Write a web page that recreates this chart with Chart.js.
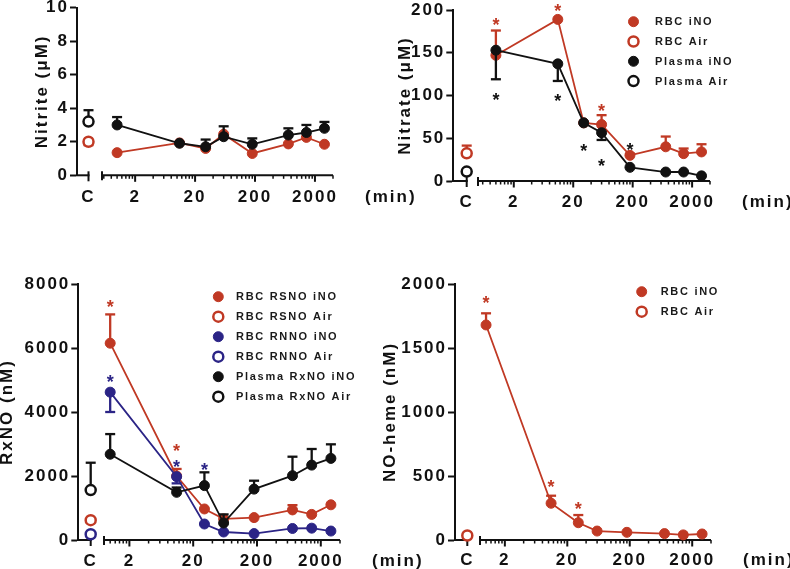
<!DOCTYPE html>
<html>
<head>
<meta charset="utf-8">
<script src="https://cdn.jsdelivr.net/npm/chart.js@4.4.1/dist/chart.umd.min.js"></script>
<style>
html, body { margin: 0; padding: 0; background: #ffffff; }
#wrap { position: relative; width: 790px; height: 569px; overflow: hidden; background: #ffffff; }
#wrap canvas { position: absolute; left: 0; top: 0; }
</style>
</head>
<body>
<div id="wrap">
  <canvas id="cNitrite" width="790" height="569"></canvas>
  <canvas id="cNitrate" width="790" height="569"></canvas>
  <canvas id="cRxNO" width="790" height="569"></canvas>
  <canvas id="cHeme" width="790" height="569"></canvas>
</div>
<script>
// ---------------- DATA ----------------
const TIMES = [1, 11, 30, 60, 180, 720, 1440, 2880];   // min
const CONTROL_LABEL = 'C';
const X_MAJOR_TICKS = [2, 20, 200, 2000];
const X_TICK_LABELS = ['2', '20', '200', '2000'];
const X_UNIT = '(min)';

// Panel A: Nitrite (µM)
const nitriteYTicks = [0, 2, 4, 6, 8, 10];
const nitriteRbcIno = [1.35, 1.93, 1.6, 2.45, 1.3, 1.87, 2.26, 1.85];
const nitriteRbcAir = [2.0];
const nitriteRbcAirErrDown = [0.2];
const nitritePlasmaIno = [3.0, 1.91, 1.7, 2.3, 1.85, 2.4, 2.55, 2.8];
const nitritePlasmaInoErrUp = [0.47, 0, 0.43, 0.62, 0.35, 0.4, 0.45, 0.38];
const nitritePlasmaAir = [3.2];
const nitritePlasmaAirErrUp = [0.68];

// Panel B: Nitrate (µM)
const nitrateYTicks = [0, 50, 100, 150, 200];
const nitrateRbcIno = [147, 189, 68, 66, 30, 40, 32, 34];
const nitrateRbcInoErrUp = [29, 0, 0, 11, 2, 12, 6, 9];
const nitrateRbcInoStars = [187, 204, null, 87, null, null, null, null];
const nitrateRbcAir = [32.4];
const nitrateRbcAirErrUp = [9];
const nitratePlasmaIno = [153, 137, 68, 56.5, 16, 10.5, 10.5, 6];
const nitratePlasmaInoErrDown = [34, 20, 0, 8.5, 0, 0, 0, 0];
const nitratePlasmaInoStars = [100, 99, 40, 23, 41, null, null, null];
const nitratePlasmaAir = [11];

// Panel C: RxNO (nM)
const rxnoYTicks = [0, 2000, 4000, 6000, 8000];
const rsnoIno = [6150, 2000, 970, 660, 700, 940, 800, 1100];
const rsnoInoErrUp = [900, 220, 0, 0, 0, 150, 0, 0];
const rsnoInoStars = [7400, 2900, null, null, null, null, null, null];
const rsnoAir = [620];
const rnnoIno = [4620, 1980, 500, 250, 200, 360, 370, 280];
const rnnoInoErrDown = [620, 210, 0, 0, 0, 0, 0, 0];
const rnnoInoStars = [5080, 2430, 2310, null, null, null, null, null];
const rnnoAir = [180];
const plasmaRxnoIno = [2680, 1490, 1700, 530, 1590, 2010, 2340, 2550];
const plasmaRxnoInoErrUp = [630, 150, 415, 270, 263, 593, 504, 440];
const plasmaRxnoAir = [1560];
const plasmaRxnoAirErrUp = [855];

// Panel D: NO-heme (nM)
const hemeYTicks = [0, 500, 1000, 1500, 2000];
const hemeRbcIno = [1680, 287, 135, 70, 60, 50, 40, 47];
const hemeRbcInoErrUp = [91, 59, 60, 0, 0, 0, 0, 0];
const hemeRbcInoStars = [1888, 451, 279, null, null, null, null, null];
const hemeRbcAir = [35];

// ---------------- STYLE ----------------
const RED = 'rgb(192,57,36)';
const BLUE = 'rgb(43,36,134)';
const BLACK = '#111111';
const FONT_FAMILY = '"Liberation Sans", Arial, Helvetica, sans-serif';
const TICK_SIZE = 17;
const SPACING = '2px';

Chart.defaults.font.family = FONT_FAMILY;
Chart.defaults.font.size = TICK_SIZE;
Chart.defaults.font.weight = 'bold';
Chart.defaults.color = BLACK;

function logTickValues(min, max) {
  const set = new Set();
  [0.2, 2, 20, 200, 2000].forEach(b => {
    for (let k = 1; k <= 10; k++) {
      const v = Number((b * k).toPrecision(6));
      if (v >= min - 1e-9 && v <= max + 1e-9) set.add(v);
    }
  });
  return Array.from(set).sort((a, b) => a - b);
}

function series(label, color, filled, values, axis, extra) {
  const xs = axis === 'xt' ? TIMES : [0];
  return Object.assign({
    label: label,
    data: values.map((v, i) => ({ x: xs[i], y: v })),
    xAxisID: axis,
    yAxisID: 'y',
    borderColor: color,
    backgroundColor: color,
    pointBackgroundColor: filled ? color : '#ffffff',
    pointBorderColor: color,
    pointBorderWidth: filled ? 1 : 2.5,
    pointRadius: 5,
    pointHoverRadius: 5,
    borderWidth: 1.8,
    showLine: axis === 'xt',
    fill: false,
    tension: 0,
    clip: false,
    errColor: color
  }, extra || {});
}

// ---------------- PLUGINS ----------------
const spacingPlugin = {
  id: 'gpSpacing',
  beforeUpdate(chart) { chart.ctx.letterSpacing = SPACING; },
  beforeLayout(chart) { chart.ctx.letterSpacing = SPACING; },
  beforeDraw(chart) { chart.ctx.letterSpacing = SPACING; }
};

const axisPlugin = {
  id: 'gpAxes',
  beforeDatasetsDraw(chart) {
    const ctx = chart.ctx;
    const xc = chart.scales.xc, xt = chart.scales.xt;
    const yLine = chart.chartArea.bottom;
    ctx.save();
    ctx.strokeStyle = BLACK;
    ctx.lineCap = 'butt';
    ctx.lineWidth = 2;
    const cx = xc.getPixelForValue(0);
    ctx.beginPath(); ctx.moveTo(xc.left - 1, yLine); ctx.lineTo(cx + 1, yLine); ctx.stroke();
    ctx.beginPath(); ctx.moveTo(cx, yLine - 4); ctx.lineTo(cx, yLine + 6); ctx.stroke();
    const x0 = xt.getPixelForValue(xt.min), x1 = xt.getPixelForValue(xt.max);
    ctx.beginPath(); ctx.moveTo(x0, yLine); ctx.lineTo(x1, yLine); ctx.stroke();
    ctx.beginPath(); ctx.moveTo(x0, yLine - 4); ctx.lineTo(x0, yLine + 5); ctx.stroke();
    xt.ticks.forEach(t => {
      const px = xt.getPixelForValue(t.value);
      const major = X_MAJOR_TICKS.includes(t.value);
      ctx.lineWidth = major ? 2 : 1.5;
      ctx.beginPath(); ctx.moveTo(px, yLine); ctx.lineTo(px, yLine + (major ? 6.5 : 3.5)); ctx.stroke();
    });
    ctx.restore();
  },
  afterDraw(chart) {
    const ctx = chart.ctx;
    const xt = chart.scales.xt;
    const y = chart.chartArea.bottom + xt.options.ticks.padding + TICK_SIZE * 1.2 / 2;
    ctx.save();
    ctx.letterSpacing = SPACING;
    ctx.font = 'bold ' + TICK_SIZE + 'px ' + FONT_FAMILY;
    ctx.fillStyle = BLACK;
    ctx.textAlign = 'left';
    ctx.textBaseline = 'middle';
    ctx.fillText(X_UNIT, xt.right + 32, y);
    ctx.restore();
  }
};

const errorBarPlugin = {
  id: 'gpErrors',
  beforeDatasetDraw(chart, args) {
    const ds = chart.data.datasets[args.index];
    const meta = args.meta;
    const ys = meta.yScale;
    const ctx = chart.ctx;
    ctx.save();
    ctx.strokeStyle = ds.errColor;
    ctx.lineWidth = 2.3;
    ctx.lineCap = 'butt';
    meta.data.forEach((pt, i) => {
      const v = ds.data[i].y;
      [[ds.errUp, 1], [ds.errDown, -1]].forEach(([arr, dir]) => {
        if (!arr || !arr[i]) return;
        const yEnd = ys.getPixelForValue(v + dir * arr[i]);
        ctx.beginPath(); ctx.moveTo(pt.x, pt.y); ctx.lineTo(pt.x, yEnd); ctx.stroke();
        ctx.beginPath(); ctx.moveTo(pt.x - 5, yEnd); ctx.lineTo(pt.x + 5, yEnd); ctx.stroke();
      });
    });
    ctx.restore();
  }
};

const starPlugin = {
  id: 'gpStars',
  afterDatasetsDraw(chart) {
    const ctx = chart.ctx;
    const size = 18;
    ctx.save();
    ctx.font = 'bold ' + size + 'px ' + FONT_FAMILY;
    ctx.textAlign = 'center';
    ctx.textBaseline = 'alphabetic';
    ctx.letterSpacing = '0px';
    chart.data.datasets.forEach((ds, di) => {
      if (!ds.stars) return;
      const meta = chart.getDatasetMeta(di);
      ctx.fillStyle = ds.starColor || ds.errColor;
      ds.stars.forEach((s, i) => {
        if (s === null || s === undefined) return;
        const x = meta.data[i].x;
        const y = meta.yScale.getPixelForValue(s);
        ctx.fillText('*', x, y + size * 0.57);
      });
    });
    ctx.restore();
  }
};

const legendPlugin = {
  id: 'gpLegend',
  afterDraw(chart, args, opts) {
    if (!opts || !opts.show) return;
    const ctx = chart.ctx;
    ctx.save();
    ctx.letterSpacing = opts.spacing + 'px';
    ctx.font = 'bold 11px ' + FONT_FAMILY;
    ctx.textBaseline = 'middle';
    ctx.textAlign = 'left';
    chart.data.datasets.forEach((ds, i) => {
      const y = opts.y + i * opts.rowGap;
      ctx.beginPath();
      ctx.arc(opts.x, y, 5, 0, Math.PI * 2);
      ctx.fillStyle = ds.pointBackgroundColor;
      ctx.fill();
      ctx.lineWidth = ds.pointBorderWidth;
      ctx.strokeStyle = ds.pointBorderColor;
      ctx.stroke();
      ctx.fillStyle = '#1a1a1a';
      ctx.fillText(ds.label, opts.x + opts.textGap, y + 0.5);
    });
    ctx.restore();
  }
};

// ---------------- PANEL FACTORY ----------------
function makePanel(id, g, yTicks, yTitle, datasets, legendOpts) {
  const yMax = yTicks[yTicks.length - 1];
  const xcW = g.logStart - g.yAxisX;
  const cOff = g.cPix - g.yAxisX;
  const xtW = g.right - g.logStart;
  const logVals = logTickValues(g.logMin, 4000);
  const tickPad = g.labelY - g.bottom - TICK_SIZE * 1.2 / 2;
  return new Chart(document.getElementById(id), {
    type: 'line',
    data: { datasets: datasets },
    plugins: [spacingPlugin, axisPlugin, errorBarPlugin, starPlugin, legendPlugin],
    options: {
      responsive: false,
      animation: false,
      devicePixelRatio: 1,
      events: [],
      layout: { padding: { left: 0, top: g.top, right: 790 - g.right, bottom: 569 - g.bottom - 30 } },
      plugins: {
        legend: { display: false },
        tooltip: { enabled: false },
        gpLegend: legendOpts || { show: false }
      },
      scales: {
        xc: {
          type: 'linear', position: 'bottom', stack: 'x', stackWeight: xcW,
          min: -1, max: (xcW - cOff) / cOff,
          grid: { display: false, drawTicks: false },
          border: { display: false },
          ticks: { padding: tickPad, maxRotation: 0, minRotation: 0, autoSkip: false, callback: () => CONTROL_LABEL },
          afterBuildTicks: s => { s.ticks = [{ value: 0 }]; },
          afterFit: s => { s.height = 30; s.paddingLeft = 0; s.paddingRight = 0; }
        },
        xt: {
          type: 'logarithmic', position: 'bottom', stack: 'x', stackWeight: xtW,
          min: g.logMin, max: 4000,
          grid: { display: false, drawTicks: false },
          border: { display: false },
          ticks: {
            padding: tickPad, maxRotation: 0, minRotation: 0, autoSkip: false,
            callback: v => { const k = X_MAJOR_TICKS.indexOf(Number(v)); return k >= 0 ? X_TICK_LABELS[k] : ''; }
          },
          afterBuildTicks: s => { s.ticks = logVals.map(v => ({ value: v })); },
          afterFit: s => { s.height = 30; s.paddingLeft = 0; s.paddingRight = 0; }
        },
        y: {
          type: 'linear', position: 'left', min: 0, max: yMax,
          grid: { display: true, drawOnChartArea: false, drawTicks: true, tickLength: 7, tickWidth: 2, tickColor: BLACK },
          border: { display: true, width: 2, color: BLACK },
          ticks: { padding: 1, color: BLACK, callback: v => String(v) },
          afterBuildTicks: s => { s.ticks = yTicks.map(v => ({ value: v })); },
          title: {
            display: true, text: yTitle, color: BLACK,
            font: { size: TICK_SIZE, weight: 'bold' },
            padding: { top: g.titleX - TICK_SIZE * 1.2 / 2, bottom: 0 }
          },
          afterFit: s => { s.width = g.yAxisX; s.paddingTop = 0; s.paddingBottom = 0; }
        }
      }
    }
  });
}

// ---------------- PANELS ----------------
makePanel('cNitrite',
  { yAxisX: 77, top: 4.3, bottom: 175.3, right: 333, logMin: 0.56, cPix: 88.5, logStart: 102, titleX: 42, labelY: 197.5 },
  nitriteYTicks, 'Nitrite (μM)',
  [
    series('RBC iNO', RED, true, nitriteRbcIno, 'xt', { order: 2 }),
    series('RBC Air', RED, false, nitriteRbcAir, 'xc', { order: 2, errDown: nitriteRbcAirErrDown }),
    series('Plasma iNO', BLACK, true, nitritePlasmaIno, 'xt', { order: 1, errUp: nitritePlasmaInoErrUp }),
    series('Plasma Air', BLACK, false, nitritePlasmaAir, 'xc', { order: 1, errUp: nitritePlasmaAirErrUp })
  ]);

makePanel('cNitrate',
  { yAxisX: 453.3, top: 10, bottom: 181, right: 710, logMin: 0.5, cPix: 466.7, logStart: 478, titleX: 405, labelY: 202 },
  nitrateYTicks, 'Nitrate (μM)',
  [
    series('RBC iNO', RED, true, nitrateRbcIno, 'xt', { order: 2, errUp: nitrateRbcInoErrUp, stars: nitrateRbcInoStars }),
    series('RBC Air', RED, false, nitrateRbcAir, 'xc', { order: 2, errUp: nitrateRbcAirErrUp }),
    series('Plasma iNO', BLACK, true, nitratePlasmaIno, 'xt', { order: 1, errDown: nitratePlasmaInoErrDown, stars: nitratePlasmaInoStars }),
    series('Plasma Air', BLACK, false, nitratePlasmaAir, 'xc', { order: 1 })
  ],
  { show: true, x: 633.5, y: 21.7, rowGap: 19.8, textGap: 21.5, spacing: 1.7 });

makePanel('cRxNO',
  { yAxisX: 78.3, top: 284, bottom: 540, right: 340, logMin: 0.8, cPix: 90.7, logStart: 104, titleX: 7.5, labelY: 561.7 },
  rxnoYTicks, 'RxNO (nM)',
  [
    series('RBC RSNO iNO', RED, true, rsnoIno, 'xt', { order: 3, errUp: rsnoInoErrUp, stars: rsnoInoStars }),
    series('RBC RSNO Air', RED, false, rsnoAir, 'xc', { order: 3 }),
    series('RBC RNNO iNO', BLUE, true, rnnoIno, 'xt', { order: 2, errDown: rnnoInoErrDown, stars: rnnoInoStars }),
    series('RBC RNNO Air', BLUE, false, rnnoAir, 'xc', { order: 2 }),
    series('Plasma RxNO iNO', BLACK, true, plasmaRxnoIno, 'xt', { order: 1, errUp: plasmaRxnoInoErrUp }),
    series('Plasma RxNO Air', BLACK, false, plasmaRxnoAir, 'xc', { order: 1, errUp: plasmaRxnoAirErrUp })
  ],
  { show: true, x: 218.3, y: 296.7, rowGap: 20, textGap: 17.7, spacing: 1.7 });

makePanel('cHeme',
  { yAxisX: 455, top: 284, bottom: 540, right: 711, logMin: 0.8, cPix: 467.3, logStart: 480, titleX: 390, labelY: 560 },
  hemeYTicks, 'NO-heme (nM)',
  [
    series('RBC iNO', RED, true, hemeRbcIno, 'xt', { order: 1, errUp: hemeRbcInoErrUp, stars: hemeRbcInoStars }),
    series('RBC Air', RED, false, hemeRbcAir, 'xc', { order: 1 })
  ],
  { show: true, x: 641.7, y: 291.7, rowGap: 20, textGap: 19, spacing: 1.7 });
</script>
</body>
</html>
